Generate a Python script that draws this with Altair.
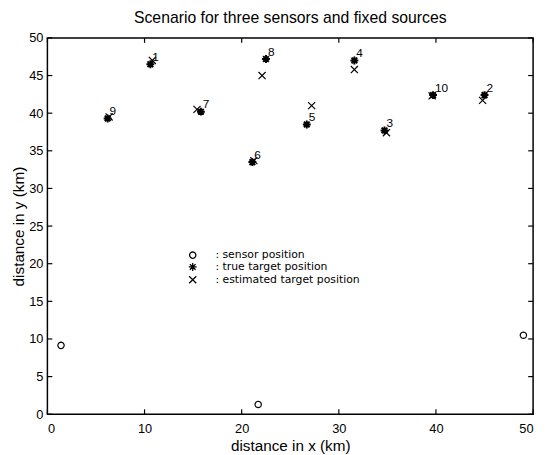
import math
import altair as alt
import pandas as pd

# ---- data ----
sensor_x = [1.4, 21.7, 49.0]
sensor_y = [9.15, 1.3, 10.5]

target_ids = ["1", "2", "3", "4", "5", "6", "7", "8", "9", "10"]
true_x = [10.6, 45.0, 34.7, 31.6, 26.7, 21.1, 15.8, 22.5, 6.2, 39.7]
true_y = [46.5, 42.4, 37.7, 47.0, 38.5, 33.5, 40.2, 47.2, 39.3, 42.4]
est_x = [10.8, 44.8, 34.9, 31.6, 27.2, 21.25, 15.4, 22.1, 6.35, 39.6]
est_y = [47.0, 41.7, 37.4, 45.8, 41.0, 33.7, 40.5, 45.0, 39.5, 42.3]

x_domain = [0, 50]
y_domain = [0, 50]
x_ticks = [0, 10, 20, 30, 40, 50]
y_ticks = [0, 5, 10, 15, 20, 25, 30, 35, 40, 45, 50]

kinds = ["sensor", "true", "estimated"]
legend_labels = [": sensor position", ": true target position", ": estimated target position"]

title_text = "Scenario for three sensors and fixed sources"
x_title = "distance in x (km)"
y_title = "distance in y (km)"

# ---- tables ----
sensors = pd.DataFrame({"x": sensor_x, "y": sensor_y, "kind": kinds[0]})
truth = pd.DataFrame({"x": true_x, "y": true_y, "kind": kinds[1], "id": target_ids})
est = pd.DataFrame({"x": est_x, "y": est_y, "kind": kinds[2]})
thin = pd.concat([sensors, est], ignore_index=True)
xt = pd.DataFrame({"t": x_ticks})
yt = pd.DataFrame({"t": y_ticks})

# marker outlines (no arc commands: a 20-sided polygon for the circle)
n = 20
circle_path = "M" + "L".join(
    f"{0.8 * math.cos(2 * math.pi * i / n):.3f},{0.8 * math.sin(2 * math.pi * i / n):.3f}"
    for i in range(n)
) + "Z"
star_path = "M-1,0L1,0M0,-1L0,1M-0.72,-0.72L0.72,0.72M-0.72,0.72L0.72,-0.72"
x_path = "M-0.9,-0.9L0.9,0.9M-0.9,0.9L0.9,-0.9"

label_expr = " : ".join(
    f"datum.label == '{k}' ? '{l}'" for k, l in zip(kinds, legend_labels)
) + " : datum.label"

FONT = "Liberation Sans"
W, H = 493, 382
TICK = 5

xscale = alt.Scale(domain=x_domain, nice=False, zero=False)
yscale = alt.Scale(domain=y_domain, nice=False, zero=False)
shape_scale = alt.Scale(domain=kinds, range=[circle_path, star_path, x_path])

legend = alt.Legend(
    title=None, orient="none", legendX=142, legendY=215,
    labelExpr=label_expr, labelFont="DejaVu Sans", labelFontSize=11,
    labelColor="black", labelOffset=17.5, symbolSize=64,
    symbolStrokeWidth=1.3, symbolStrokeColor="black", rowPadding=-3.5,
    padding=0,
)

x_axis = alt.Axis(
    values=x_ticks, orient="bottom", domain=False, grid=False, ticks=False,
    tickSize=0, labelFont=FONT, labelFontSize=13, labelColor="black",
    labelPadding=9, title=x_title, titleFont=FONT, titleFontSize=15.5,
    titleFontWeight="normal", titleColor="black", titleX=W / 2, titleY=32,
    titleBaseline="middle",
)
y_axis = alt.Axis(
    values=y_ticks, orient="left", domain=False, grid=False, ticks=False,
    tickSize=0, labelFont=FONT, labelFontSize=13, labelColor="black",
    labelPadding=4.5, title=y_title, titleFont=FONT, titleFontSize=15.5,
    titleFontWeight="normal", titleColor="black", titleX=-29, titleY=H / 2,
    titleBaseline="middle", titleAngle=270,
)

X = lambda f: alt.X(f, scale=xscale, axis=x_axis)
Y = lambda f: alt.Y(f, scale=yscale, axis=y_axis)

tick_style = dict(color="black", strokeWidth=1.2)
bottom_ticks = alt.Chart(xt).mark_rule(**tick_style).encode(
    x=X("t:Q"), y=alt.value(H), y2=alt.value(H - TICK))
top_ticks = alt.Chart(xt).mark_rule(**tick_style).encode(
    x=X("t:Q"), y=alt.value(0), y2=alt.value(TICK))
left_ticks = alt.Chart(yt).mark_rule(**tick_style).encode(
    y=Y("t:Q"), x=alt.value(0), x2=alt.value(TICK))
right_ticks = alt.Chart(yt).mark_rule(**tick_style).encode(
    y=Y("t:Q"), x=alt.value(W), x2=alt.value(W - TICK))

thin_layer = alt.Chart(thin).mark_point(
    filled=False, color="black", size=64, strokeWidth=1.2, opacity=1
).encode(
    x=X("x:Q"), y=Y("y:Q"),
    shape=alt.Shape("kind:N", scale=shape_scale, legend=legend),
)

true_layer = alt.Chart(truth).mark_point(
    filled=False, color="black", size=64, strokeWidth=2, opacity=1
).encode(
    x=X("x:Q"), y=Y("y:Q"),
    shape=alt.Shape("kind:N", scale=shape_scale, legend=legend),
)

text_layer = alt.Chart(truth).mark_text(
    align="left", baseline="alphabetic", dx=2, dy=-3.3,
    font=FONT, fontSize=12, color="black",
).encode(x=X("x:Q"), y=Y("y:Q"), text="id:N")

chart = alt.layer(
    bottom_ticks, top_ticks, left_ticks, right_ticks,
    thin_layer, true_layer, text_layer,
).properties(
    width=W, height=H,
    title=alt.TitleParams(
        title_text, font=FONT, fontSize=16, fontWeight="normal",
        anchor="middle", offset=6.5, color="black",
    ),
    autosize=alt.AutoSizeParams(type="none"),
    padding={"left": 40, "top": 27, "right": 7, "bottom": 37},
).configure_view(stroke="black", strokeWidth=1.5)

chart.save("out.html", embed_options={"renderer": "svg", "actions": False})
